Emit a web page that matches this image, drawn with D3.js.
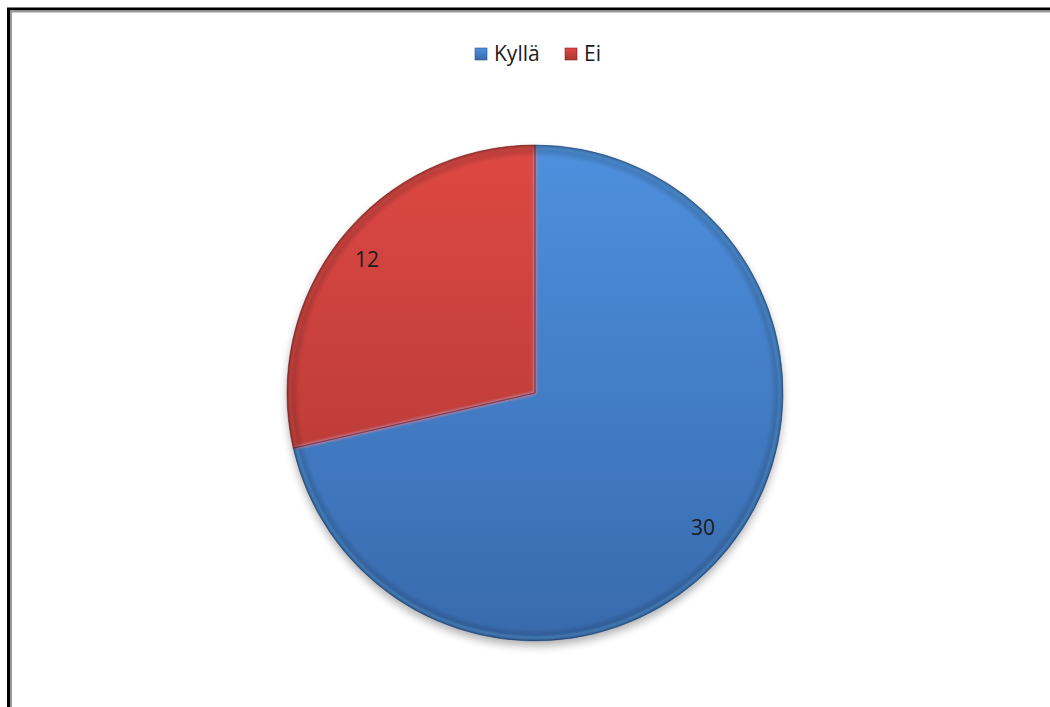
<!DOCTYPE html>
<html>
<head>
<meta charset="utf-8">
<script src="https://cdn.jsdelivr.net/npm/d3@7"></script>
<style>
  body { margin: 0; background: #fff; }
  svg { display: block; font-family: "Open Sans", "Liberation Sans", sans-serif; }
</style>
</head>
<body>
<svg id="chart" width="1050" height="707"></svg>
<script>
// data
var categories = ["Kyllä", "Ei"];
var values = [30, 12];
var topColors = ["#4e90de", "#de4844"];
var bottomColors = ["#386aad", "#aa3631"];
var edgeColors = ["#2d5590", "#80231f"];

var width = 1050, height = 707;
var cx = 535, cy = 393, radius = 248;
var labelRadius = 215;

var svg = d3.select("#chart");
var defs = svg.append("defs");

// gradients for each slice (coords local to the pie group)
categories.forEach(function(c, i) {
  var g = defs.append("linearGradient")
    .attr("id", "grad" + i)
    .attr("gradientUnits", "userSpaceOnUse")
    .attr("x1", 0).attr("y1", -radius)
    .attr("x2", 0).attr("y2", radius);
  g.append("stop").attr("offset", "0%").attr("stop-color", topColors[i]);
  g.append("stop").attr("offset", "100%").attr("stop-color", bottomColors[i]);

  var lg = defs.append("linearGradient")
    .attr("id", "lgrad" + i)
    .attr("x1", 0).attr("y1", 0).attr("x2", 0).attr("y2", 1);
  lg.append("stop").attr("offset", "0%").attr("stop-color", topColors[i]);
  lg.append("stop").attr("offset", "100%").attr("stop-color", bottomColors[i]);
});

// edge darkening, like a bevel
var rg = defs.append("radialGradient")
  .attr("id", "edge")
  .attr("gradientUnits", "userSpaceOnUse")
  .attr("cx", 0).attr("cy", 0).attr("r", radius);
rg.append("stop").attr("offset", "0.95").attr("stop-color", "#000").attr("stop-opacity", 0);
rg.append("stop").attr("offset", "1").attr("stop-color", "#000").attr("stop-opacity", 0.28);

var shadow = defs.append("filter").attr("id", "shadow")
  .attr("x", "-20%").attr("y", "-20%").attr("width", "140%").attr("height", "140%");
shadow.append("feGaussianBlur").attr("stdDeviation", 4);

var blur = defs.append("filter").attr("id", "soft");
blur.append("feGaussianBlur").attr("stdDeviation", 1.2);

// chart frame
svg.append("rect")
  .attr("x", 8.5).attr("y", 9)
  .attr("width", width + 20).attr("height", height + 20)
  .attr("fill", "none").attr("stroke", "#000").attr("stroke-width", 3);
svg.append("rect")
  .attr("x", 11).attr("y", 11.5)
  .attr("width", width + 20).attr("height", height + 20)
  .attr("fill", "none").attr("stroke", "#9a9a9a").attr("stroke-width", 2);

var pie = d3.pie().sort(null).value(function(d) { return d; });
var arcs = pie(values);
var arc = d3.arc().innerRadius(0).outerRadius(radius);
var labelArc = d3.arc().innerRadius(labelRadius).outerRadius(labelRadius);

var g = svg.append("g").attr("transform", "translate(" + cx + "," + cy + ")");

// drop shadow under the pie
g.append("circle")
  .attr("cx", 0).attr("cy", 5).attr("r", radius)
  .attr("fill", "#000").attr("opacity", 0.3)
  .attr("filter", "url(#shadow)");

g.selectAll("path.slice")
  .data(arcs)
  .enter().append("path")
  .attr("class", "slice")
  .attr("d", arc)
  .attr("fill", function(d, i) { return "url(#grad" + i + ")"; });

// bevel: light inner line along slice edges
var innerArc = d3.arc().innerRadius(0).outerRadius(radius - 3);
g.selectAll("path.bevel")
  .data(arcs)
  .enter().append("path")
  .attr("class", "bevel")
  .attr("d", innerArc)
  .attr("fill", "none")
  .attr("stroke", function(d, i) { return d3.color(topColors[i]).brighter(0.6); })
  .attr("stroke-width", 3)
  .attr("stroke-opacity", 0.7)
  .attr("filter", "url(#soft)");

g.selectAll("path.seam")
  .data(arcs)
  .enter().append("path")
  .attr("class", "seam")
  .attr("d", arc)
  .attr("fill", "none")
  .attr("stroke", function(d, i) { return edgeColors[i]; })
  .attr("stroke-width", 1)
  .attr("stroke-opacity", 0.6);

g.append("circle")
  .attr("r", radius)
  .attr("fill", "url(#edge)");

// data labels
g.selectAll("text.label")
  .data(arcs)
  .enter().append("text")
  .attr("class", "label")
  .attr("transform", function(d) { return "translate(" + labelArc.centroid(d) + ")"; })
  .attr("text-anchor", "middle")
  .attr("dy", "0.36em")
  .attr("font-size", 21)
  .attr("fill", "#1b1b1b")
  .text(function(d) { return d.data; });

// legend
var legendX = [475, 565];
var legend = svg.append("g").selectAll("g")
  .data(categories)
  .enter().append("g")
  .attr("transform", function(d, i) { return "translate(" + legendX[i] + ",48)"; });
legend.append("rect")
  .attr("width", 12).attr("height", 12)
  .attr("fill", function(d, i) { return "url(#lgrad" + i + ")"; })
  .attr("stroke", function(d, i) { return edgeColors[i]; })
  .attr("stroke-width", 0.6);
legend.append("text")
  .attr("x", 19).attr("y", 12.5)
  .attr("font-size", 21)
  .attr("fill", "#1b1b1b")
  .text(function(d) { return d; });
</script>
</body>
</html>
